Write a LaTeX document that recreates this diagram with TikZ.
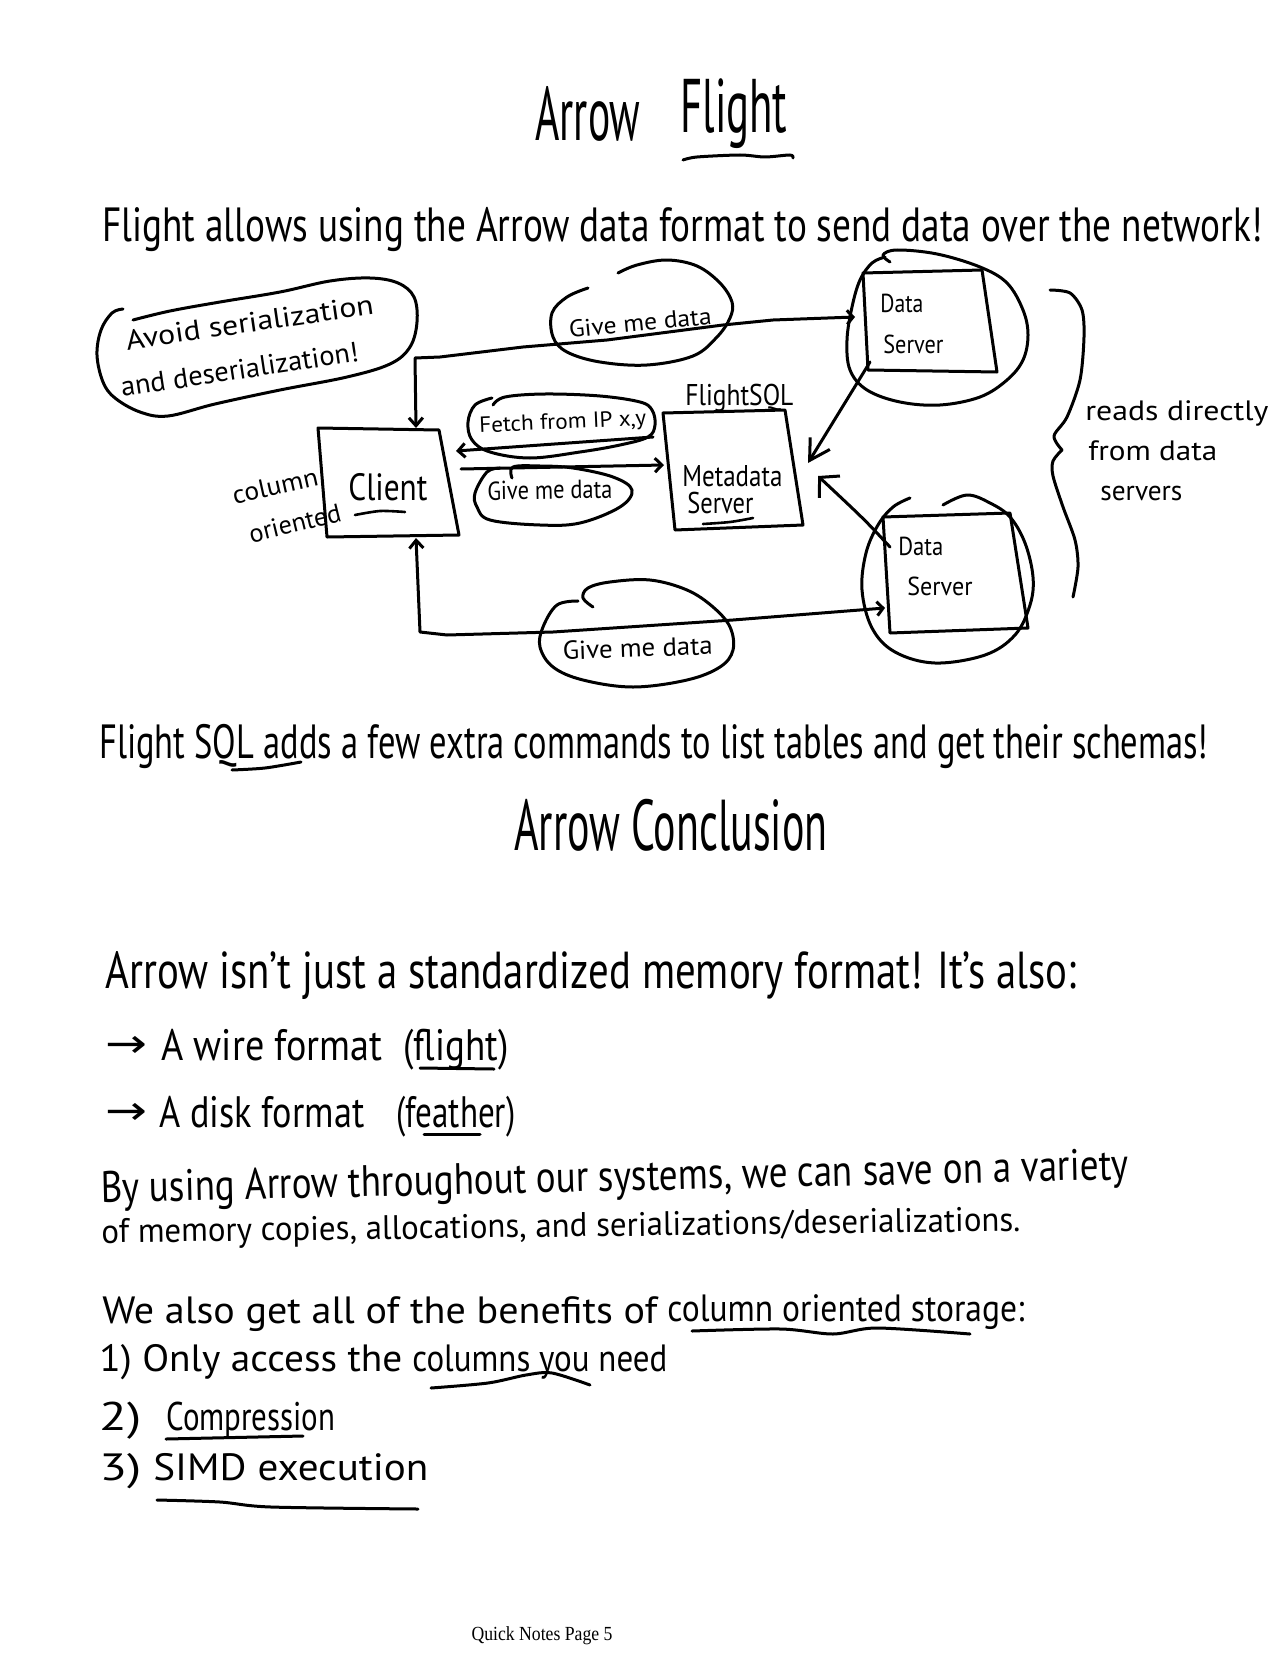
\documentclass[tikz,border=0pt]{standalone}
\usepackage{fontspec}
\usepackage{graphicx}
\setmainfont{PT Sans}
\newfontfamily\footfont{Liberation Serif}
\newfontfamily\symfont{DejaVu Sans}
\usetikzlibrary{arrows.meta}
\newlength\pxu \setlength\pxu{0.5pt}
\newcommand\fw[2]{\resizebox{#1\pxu}{\height}{#2}}
\newcommand\fsz[1]{\fontsize{#1}{#1}\selectfont}
\begin{document}
\begin{tikzpicture}[x=0.5pt,y=-0.5pt,line cap=round,line join=round,
  pen/.style={line width=1.5pt},
  thin pen/.style={line width=1.3pt},
  txt/.style={inner sep=0pt,anchor=base west},
  txtc/.style={inner sep=0pt,anchor=base},
  smallboth/.style={{Straight Barb[length=4pt,width=7pt]}-{Straight Barb[length=3pt,width=7pt]}},
  smalltip/.style={-{Straight Barb[length=3.5pt,width=7pt]}},
  bigtip/.style={-{Straight Barb[length=10pt,width=11.5pt]}},
  widetip/.style={-{Straight Barb[length=7pt,width=15pt]}}]
\useasboundingbox (0,0) rectangle (1275,1653);
\fill[white] (0,0) rectangle (1275,1653);

% ---------- titles ----------
\node[txt,font=\fsz{38}] (t1) at (535,141) {\fw{105}{Arrow}};
\node[txt,font=\fsz{38}] (t2) at (680,133) {\fw{107}{Flight}};
\draw[pen] plot[smooth] coordinates {(683,160) (697,157) (740,155) (765,157) (790,155) (793,158)};
\node[txt,font=\fsz{24}] (sub) at (102,242) {\fw{1160}{Flight allows using the Arrow data format to send data over the network!}};

% ---------- avoid blob ----------
\draw[pen] plot[smooth,tension=0.6] coordinates {(123,309) (112,313) (101,330) (97,355) (103,382) (115,398) (140,412) (168,416) (215,404) (280,390) (347,377) (390,364) (410,347) (417,322) (414,297) (398,283) (370,278) (330,281) (280,292) (220,302) (170,311) (133,320)};
\node[txtc,font=\fsz{14},rotate=8.3] (av1) at (251,332) {\fw{250}{Avoid serialization}};
\node[txtc,font=\fsz{14},rotate=8.6] (av2) at (241,379) {\fw{240}{and deserialization!}};

% ---------- client ----------
\draw[pen] (318,428) -- (439,430) -- (459,535) -- (327,537) -- cycle;
\node[txt,font=\fsz{19}] (client) at (348,500) {\fw{79}{Client}};
\draw[thin pen] plot[smooth] coordinates {(355,515) (380,511) (405,512)};
\node[txtc,font=\fsz{13},rotate=12.6] (col1) at (277,495) {\fw{87}{column}};
\node[txtc,font=\fsz{13},rotate=13.6] (col2) at (297,532) {\fw{94}{oriented}};
\coordinate (clT) at (416,428);
\coordinate (clB) at (416,538);
\coordinate (clR1) at (456,451);
\coordinate (clR2) at (461,469);

% ---------- metadata ----------
\draw[pen] (663,413) -- (785,410) -- (803,525) -- (675,530) -- cycle;
\node[txt,font=\fsz{15}] (fsql) at (685,405) {\fw{108}{FlightSQL}};
\node[txt,font=\fsz{15}] (meta1) at (682,486) {\fw{100}{Metadata}};
\node[txt,font=\fsz{15}] (meta2) at (687,513) {\fw{66}{Server}};
\draw[thin pen] plot[smooth] coordinates {(703,524) (730,522) (753,518)};
\coordinate (mdL1) at (653,437);
\coordinate (mdL2) at (664,465);
\coordinate (mdR1) at (808,463);
\coordinate (mdR2) at (818,476);

% ---------- data server 1 ----------
\draw[pen] (863,273) -- (982,270) -- (997,372) -- (868,370) -- cycle;
\node[txt,font=\fsz{13}] (ds1a) at (880,313) {\fw{43}{Data}};
\node[txt,font=\fsz{13}] (ds1b) at (883,353) {\fw{60}{Server}};
\draw[pen] plot[smooth,tension=0.6] coordinates {(890,262) (883,255) (897,250) (937,254) (980,267) (1007,283) (1023,310) (1028,335) (1023,360) (1007,380) (980,397) (940,405) (900,402) (867,390) (850,370) (847,340) (852,307) (860,280) (872,263) (885,257)};
\coordinate (ds1L) at (855,317);
\coordinate (ds1BL) at (870,362);

% ---------- data server 2 ----------
\draw[pen] (883,517) -- (1010,513) -- (1028,628) -- (890,633) -- cycle;
\node[txt,font=\fsz{13}] (ds2a) at (898,555) {\fw{45}{Data}};
\node[txt,font=\fsz{13}] (ds2b) at (907,595) {\fw{65}{Server}};
\draw[pen] plot[smooth,tension=0.6] coordinates {(943,505) (967,495) (990,503) (1010,517) (1025,543) (1033,577) (1030,605) (1015,635) (985,655) (935,663) (895,652) (872,628) (862,590) (866,553) (878,525) (893,507) (910,498)};
\coordinate (ds2L) at (885,608);
\coordinate (ds2TL) at (890,547);

% ---------- brace ----------
\draw[pen] plot[smooth] coordinates {(1050,290) (1070,293) (1082,310) (1084,337) (1080,380) (1067,417) (1054,436) (1062,450)};
\draw[pen] plot[smooth] coordinates {(1062,450) (1053,461) (1053,476) (1063,507) (1075,540) (1078,567) (1073,597)};
\node[txt,font=\fsz{14}] (rd1) at (1085,420) {\fw{183}{reads directly}};
\node[txt,font=\fsz{14}] (rd2) at (1088,460) {\fw{129}{from data}};
\node[txt,font=\fsz{14}] (rd3) at (1100,500) {\fw{82}{servers}};

% ---------- message blobs ----------
\draw[pen] plot[smooth,tension=0.6] coordinates {(618,273) (637,265) (667,260) (697,266) (720,283) (732,302) (730,318) (717,337) (693,356) (647,365) (600,362) (567,352) (553,337) (552,313) (567,297) (588,288)};
\node[txtc,font=\fsz{12},rotate=5.6] (g1) at (641,331) {\fw{143}{Give me data}};

\draw[pen] plot[smooth,tension=0.6] coordinates {(492,398) (475,405) (468,422) (472,440) (490,452) (530,458) (580,452) (620,445) (648,437) (655,425) (652,410) (640,402) (600,396) (545,394) (505,397) (493,405)};
\node[txtc,font=\fsz{11},rotate=2.5] (fetch) at (563,429) {\fw{167}{Fetch from IP x,y}};

\draw[pen] plot[smooth,tension=0.6] coordinates {(512,478) (513,467) (540,466) (573,468) (613,477) (632,490) (620,507) (580,523) (540,525) (490,520) (477,507) (475,493) (487,472) (500,468)};
\node[txtc,font=\fsz{13},rotate=1] (g2) at (550,499) {\fw{125}{Give me data}};

\draw[pen] plot[smooth,tension=0.6] coordinates {(593,607) (583,598) (588,588) (610,582) (650,580) (687,590) (713,607) (730,627) (733,650) (720,667) (687,680) (633,687) (583,680) (553,667) (540,647) (543,627) (557,605) (578,601)};
\node[txtc,font=\fsz{13},rotate=2] (g3) at (638,657) {\fw{150}{Give me data}};

% ---------- connectors ----------
\draw[pen,smallboth] (clT) -- (415,358) -- (440,357) -- (523,347) -- (607,340) -- (723,325) -- (773,320) -- (ds1L);
\draw[pen,smallboth] (clB) -- (420,632) -- (447,635) -- (553,632) -- (733,620) -- (ds2L);
\draw[pen,smalltip] (mdL1) -- (clR1);
\draw[pen,smalltip] (clR2) -- (mdL2);
\draw[pen,bigtip] (ds1BL) -- (mdR1);
\draw[pen,widetip] (ds2TL) .. controls (865,520) .. (mdR2);

% ---------- lower text ----------
\node[txt,font=\fsz{24}] (fs) at (99,758) {\fw{1109}{Flight SQL adds a few extra commands to list tables and get their schemas!}};
\draw[pen] plot[smooth] coordinates {(232,770) (265,768) (301,762)};
\node[txt,font=\fsz{36}] (concl) at (514,850) {\fw{313}{Arrow Conclusion}};
\node[txt,font=\fsz{26}] (l1) at (105,988) {\fw{971}{Arrow isn't just a standardized memory format! It's also:}};

\node[txt,font=\symfont\fsz{20}] (ar1) at (105,1057) {\fw{42}{→}};
\node[txt,font=\fsz{22}] (l2a) at (161,1060) {\fw{221}{A wire format}};
\node[txt,font=\fsz{22}] (l2b) at (403,1060) {\fw{105}{(flight)}};
\draw[pen] (420,1068) -- (494,1069);
\node[txt,font=\symfont\fsz{20}] (ar2) at (105,1124) {\fw{42}{→}};
\node[txt,font=\fsz{22}] (l3a) at (159,1127) {\fw{205}{A disk format}};
\node[txt,font=\fsz{22}] (l3b) at (396,1127) {\fw{119}{(feather)}};
\draw[pen] (424,1134) -- (480,1134);

\node[txtc,font=\fsz{22},rotate=1.3] (l4) at (615,1191) {\fw{1028}{By using Arrow throughout our systems, we can save on a variety}};
\node[txtc,font=\fsz{17},rotate=0.75] (l5) at (561,1237) {\fw{919}{of memory copies, allocations, and serializations/deserializations.}};

\node[txt,font=\fsz{19}] (l6a) at (102,1323) {\fw{555}{We also get all of the benefits of}};
\node[txt,font=\fsz{19}] (l6b) at (667,1321) {\fw{357}{column oriented storage:}};
\draw[pen] plot[smooth] coordinates {(692,1331) (781,1329) (833,1334) (877,1328) (970,1334)};
\node[txt,font=\fsz{19}] (l7a) at (99,1371) {\fw{303}{1) Only access the}};
\node[txt,font=\fsz{19}] (l7b) at (412,1371) {\fw{255}{columns you need}};
\draw[pen] plot[smooth] coordinates {(431,1388) (488,1383) (526,1375) (552,1373) (590,1385)};
\node[txt,font=\fsz{20}] (l8a) at (99,1430) {\fw{42}{2)}};
\node[txt,font=\fsz{20}] (l8b) at (166,1430) {\fw{169}{Compression}};
\draw[pen] (166,1439) -- (303,1436);
\node[txt,font=\fsz{19}] (l9a) at (99,1480) {\fw{42}{3)}};
\node[txt,font=\fsz{19}] (l9b) at (153,1480) {\fw{275}{SIMD execution}};
\draw[pen] plot[smooth] coordinates {(157,1500) (220,1502) (271,1507) (418,1509)};

% ---------- footer ----------
\node[txtc,font=\footfont\fsz{10}] (foot) at (542,1640) {\fw{141}{Quick Notes Page 5}};
\end{tikzpicture}
\end{document}
